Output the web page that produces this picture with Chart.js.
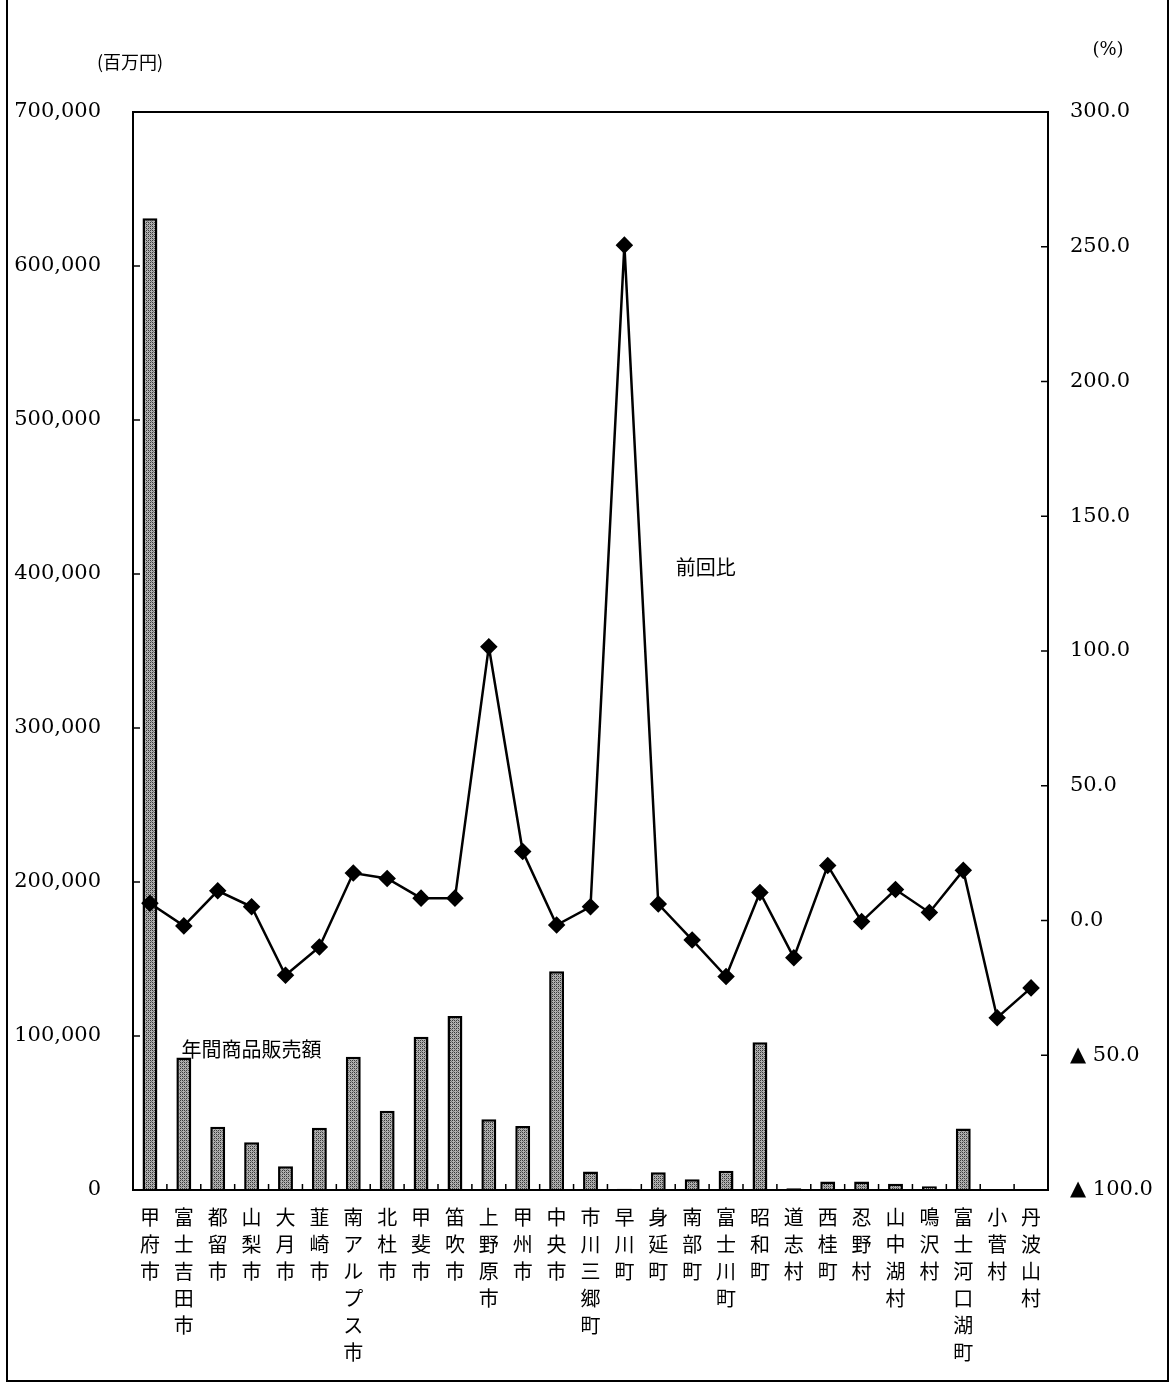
<!DOCTYPE html>
<html>
<head>
<meta charset="utf-8">
<script src="https://cdn.jsdelivr.net/npm/chart.js@4.4.1/dist/chart.umd.min.js"></script>
<style>
  body { margin: 0; background: #fff; }
  #wrap { width: 1175px; height: 1383px; position: relative; }
</style>
</head>
<body>
<div id="wrap"><canvas id="salesChart" width="1175" height="1383"></canvas></div>
<script>
var towns = ['甲府市', '富士吉田市', '都留市', '山梨市', '大月市', '韮崎市', '南アルプス市', '北杜市', '甲斐市',
    '笛吹市', '上野原市', '甲州市', '中央市', '市川三郷町', '早川町', '身延町', '南部町', '富士川町', '昭和町',
    '道志村', '西桂町', '忍野村', '山中湖村', '鳴沢村', '富士河口湖町', '小菅村', '丹波山村'];

// 年間商品販売額 (百万円)
var salesValues = [631000, 86000, 41000, 31000, 15500, 40500, 86500, 51500, 99500,
    113000, 46000, 41500, 142000, 12000, 800, 11500, 7000, 12500, 96000,
    1200, 5500, 5500, 4000, 2500, 40000, 600, 500];

// 前回比 (%)
var ratioValues = [6.4, -2.0, 11.0, 5.1, -20.3, -9.8, 17.6, 15.6, 8.3,
    8.3, 101.6, 25.6, -1.7, 5.1, 250.6, 6.1, -7.2, -20.8, 10.4,
    -13.8, 20.4, -0.4, 11.5, 3.0, 18.6, -36.1, -25.0];

var leftTicks = [0, 100000, 200000, 300000, 400000, 500000, 600000, 700000];
var rightTicks = [-100, -50, 0, 50, 100, 150, 200, 250, 300];

var numFont = '"DejaVu Serif", serif';
var cjkFont = '"Noto Sans CJK JP", sans-serif';

// dotted grey fill like the scanned bars
function makeHatch() {
    var c = document.createElement('canvas');
    c.width = 4; c.height = 4;
    var g = c.getContext('2d');
    g.fillStyle = '#b0b0b0';
    g.fillRect(0, 0, 4, 4);
    g.fillStyle = '#3a3a3a';
    g.fillRect(0, 0, 1, 1);
    g.fillRect(2, 2, 1, 1);
    g.fillRect(2, 0, 1, 1);
    g.fillRect(0, 2, 1, 1);
    g.fillStyle = '#777';
    g.fillRect(1, 3, 1, 1);
    g.fillRect(3, 1, 1, 1);
    return document.getElementById('salesChart').getContext('2d').createPattern(c, 'repeat');
}

var framePlugin = {
    id: 'frame',
    beforeDraw: function(chart) {
        var ctx = chart.ctx;
        ctx.save();
        ctx.fillStyle = '#fff';
        ctx.fillRect(0, 0, chart.width, chart.height);
        ctx.strokeStyle = '#000';
        ctx.lineWidth = 2;
        ctx.beginPath();
        ctx.moveTo(7, 0); ctx.lineTo(7, 1381);
        ctx.lineTo(1168, 1381); ctx.lineTo(1168, 0);
        ctx.stroke();
        ctx.restore();
    },
    afterDraw: function(chart) {
        var ctx = chart.ctx;
        var a = chart.chartArea;
        var x = chart.scales.x, y = chart.scales.y, y1 = chart.scales.y1;
        ctx.save();
        ctx.strokeStyle = '#000';
        ctx.lineWidth = 2;
        ctx.strokeRect(a.left, a.top, a.right - a.left, a.bottom - a.top);
        ctx.lineWidth = 1.5;
        ctx.beginPath();
        leftTicks.forEach(function(v) {
            var p = y.getPixelForValue(v);
            ctx.moveTo(a.left, p); ctx.lineTo(a.left + 7, p);
        });
        rightTicks.forEach(function(v) {
            var p = y1.getPixelForValue(v);
            ctx.moveTo(a.right, p); ctx.lineTo(a.right - 7, p);
        });
        for (var i = 1; i < towns.length; i++) {
            var px = (x.getPixelForValue(i - 1) + x.getPixelForValue(i)) / 2;
            ctx.moveTo(px, a.bottom); ctx.lineTo(px, a.bottom - 6);
        }
        ctx.stroke();

        ctx.fillStyle = '#000';
        ctx.textAlign = 'center';
        ctx.textBaseline = 'middle';
        ctx.font = '18px ' + cjkFont;
        ctx.fillText('(百万円)', 130, 62);
        ctx.font = '18px ' + numFont;
        ctx.fillText('(%)', 1108, 50);
        ctx.font = '20px ' + cjkFont;
        ctx.fillText('前回比', x.getPixelForValue(16.4), y1.getPixelForValue(131));
        ctx.fillText('年間商品販売額', x.getPixelForValue(3.0), y.getPixelForValue(91500));
        ctx.restore();
    }
};

var ctx = document.getElementById('salesChart').getContext('2d');
var salesChart = new Chart(ctx, {
    type: 'bar',
    data: {
        labels: towns.map(function(t) { return t.split(''); }),
        datasets: [
            {
                type: 'line',
                label: '前回比',
                data: ratioValues,
                yAxisID: 'y1',
                borderColor: '#000',
                borderWidth: 2.5,
                backgroundColor: '#000',
                pointStyle: 'rectRot',
                pointRadius: 7,
                pointBackgroundColor: '#000',
                pointBorderColor: '#000',
                tension: 0,
                order: 0
            },
            {
                type: 'bar',
                label: '年間商品販売額',
                data: salesValues,
                yAxisID: 'y',
                backgroundColor: makeHatch(),
                borderColor: '#000',
                borderWidth: 2.5,
                barPercentage: 0.44,
                categoryPercentage: 1.0,
                order: 1
            }
        ]
    },
    options: {
        responsive: false,
        animation: false,
        layout: { padding: { top: 112, left: 0, right: 0, bottom: 0 } },
        plugins: {
            legend: { display: false },
            tooltip: { enabled: false }
        },
        scales: {
            x: {
                grid: { display: false, drawTicks: false },
                border: { display: false },
                ticks: {
                    autoSkip: false,
                    maxRotation: 0,
                    minRotation: 0,
                    padding: 14,
                    color: '#000',
                    font: { family: cjkFont, size: 20, lineHeight: 1.35 }
                },
                afterFit: function(scale) { scale.height = 193; }
            },
            y: {
                position: 'left',
                min: 0,
                max: 700000,
                grid: { display: false, drawTicks: false },
                border: { display: false },
                ticks: {
                    stepSize: 100000,
                    padding: 32,
                    color: '#000',
                    font: { family: numFont, size: 21 },
                    callback: function(v) { return v.toLocaleString('en-US'); }
                },
                afterFit: function(scale) { scale.width = 133; }
            },
            y1: {
                position: 'right',
                min: -100,
                max: 300,
                grid: { display: false, drawTicks: false },
                border: { display: false },
                ticks: {
                    stepSize: 50,
                    padding: 22,
                    color: '#000',
                    font: { family: numFont, size: 21 },
                    callback: function(v) {
                        return v < 0 ? '▲ ' + Math.abs(v).toFixed(1) : v.toFixed(1);
                    }
                },
                afterFit: function(scale) { scale.width = 127; }
            }
        }
    },
    plugins: [framePlugin]
});
</script>
</body>
</html>
